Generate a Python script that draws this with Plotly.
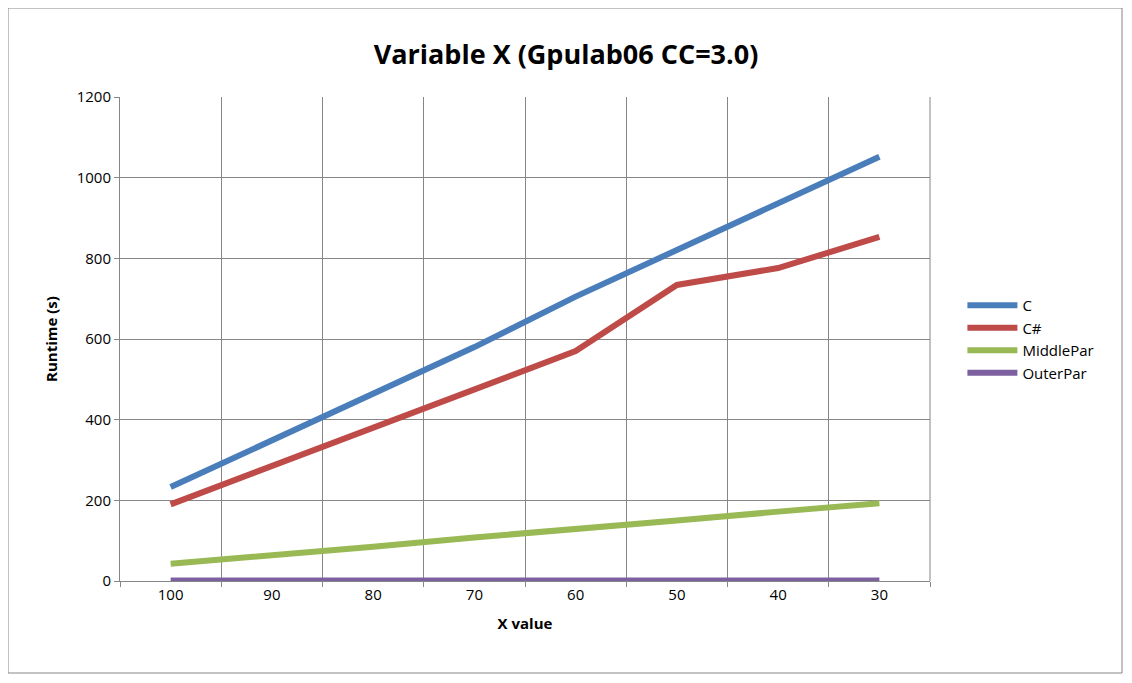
import plotly.graph_objects as go

categories = ["100", "90", "80", "70", "60", "50", "40", "30"]
c_vals = [233, 350, 465, 580, 705, 820, 938, 1052]
cs_vals = [190, 285, 380, 478, 570, 734, 776, 853]
middle_vals = [43, 63, 85, 108, 128, 150, 172, 193]
outer_vals = [1, 1, 1, 1, 1, 1, 1, 1]

series = [("C", c_vals, "#4a7ebb"), ("C#", cs_vals, "#be4b48"),
          ("MiddlePar", middle_vals, "#98b954"), ("OuterPar", outer_vals, "#7d60a0")]

fig = go.Figure()
for name, vals, col in series:
    fig.add_trace(go.Scatter(x=categories, y=vals, name=name, mode="lines",
                             line=dict(color=col, width=6)))

font = "Open Sans, Liberation Sans, sans-serif"
L, R, T, B = 112, 194, 89, 94
fig.update_layout(
    width=1116, height=667, paper_bgcolor="white", plot_bgcolor="white",
    margin=dict(l=L, r=R, t=T, b=B),
    font=dict(family=font, color="black", size=14),
    title=dict(text="<b>Variable X (Gpulab06 CC=3.0)</b>", x=0.5, xanchor="center",
               y=0.93, yanchor="middle", font=dict(size=27)),
    legend=dict(x=1.04, y=0.5, yanchor="middle", xanchor="left", tracegroupgap=12,
                font=dict(size=15), itemwidth=50),
    showlegend=True,
    xaxis=dict(type="category", range=[-0.5, 7.5], tickson="boundaries", showgrid=True,
               gridcolor="#868686", linecolor="#868686", showline=True, ticks="outside",
               tickcolor="#868686", ticklen=5,
               title=dict(text="<b>X value</b>", font=dict(size=15)),
               tickfont=dict(size=15)),
    yaxis=dict(range=[0, 1200], dtick=200, showgrid=True, gridcolor="#868686",
               linecolor="#868686", showline=True, ticks="outside", tickcolor="#868686",
               ticklen=5, title=dict(text="<b>Runtime (s)</b>", font=dict(size=15)),
               tickfont=dict(size=15), zeroline=False),
    shapes=[dict(type="rect", xref="paper", yref="paper",
                 x0=-L/810, x1=1+(R-2)/810, y0=-(B-2)/484, y1=1+T/484,
                 line=dict(color="#868686", width=1)),
            dict(type="line", xref="x domain", yref="y domain", x0=1, x1=1, y0=0, y1=1,
                 line=dict(color="#868686", width=1))],
)
fig.write_html("out.html")
